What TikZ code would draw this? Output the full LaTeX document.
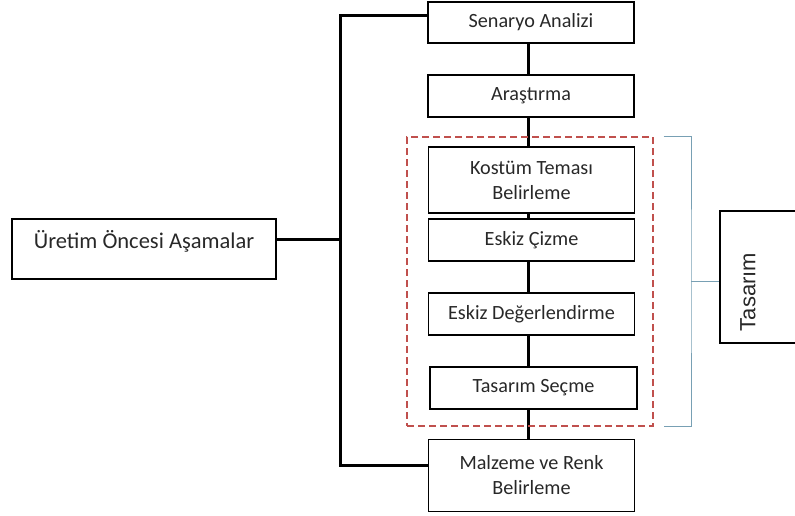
\documentclass[tikz,border=0pt]{standalone}
\usepackage{fontspec}
\setmainfont{Carlito}
\newfontfamily\sidefont{Liberation Sans}
\usetikzlibrary{positioning}
\definecolor{frame}{RGB}{192,80,77}
\definecolor{brace}{RGB}{120,160,180}
\definecolor{ink}{RGB}{40,40,40}

\begin{document}
\begin{tikzpicture}[x=1pt,y=-1pt,
    box/.style={draw, line width=1.4pt, minimum width=206pt, inner sep=0pt,
      align=center, text=ink, font=\fontsize{20.2}{25}\selectfont},
    conn/.style={line width=3pt},
    group/.style={draw=frame, dash pattern=on 7pt off 4pt, line width=1.2pt, inner sep=0pt},
    bracket/.style={draw=brace, line width=1pt}]
  \useasboundingbox (0,0) rectangle (795,515);
  % main column
  \node[box, minimum height=41pt] (senaryo) at (531,22.5) {Senaryo Analizi};
  \node[box, minimum height=42pt] (arastirma) at (531,96) {Araştırma};
  \node[box, minimum height=66pt] (kostum) at (531.5,180) {Kostüm Teması\\Belirleme};
  \node[box, minimum height=42pt] (cizme) at (531.5,240) {Eskiz Çizme};
  \node[box, minimum height=42pt] (degerlendirme) at (531.5,314) {Eskiz Değerlendirme};
  \node[box, minimum height=42pt, minimum width=207pt] (secme) at (533.5,388) {Tasarım Seçme};
  \node[box, minimum height=72pt] (malzeme) at (531.5,475.5) {Malzeme ve Renk\\Belirleme};
  \node[box, minimum width=264pt, minimum height=60pt, text height=17pt, text depth=19pt,
    font=\fontsize{22.5}{27}\selectfont] (uretim) at (144,249) {Üretim Öncesi Aşamalar};
  % spine on the left
  \coordinate (top) at (340,15);
  \coordinate (mid) at (340,239);
  \coordinate (bot) at (340,465);
  \draw[conn] (senaryo.west |- top) -- (top) -- (bot) -- (malzeme.west |- bot);
  \draw[conn] (uretim.east |- mid) -- (mid);
  \coordinate (trunk) at (528,0);
  \foreach \a/\b in {senaryo/arastirma, arastirma/kostum, kostum/cizme,
      cizme/degerlendirme, degerlendirme/secme, secme/malzeme}
    \draw[conn] (\a.south -| trunk) -- (\b.north -| trunk);
  % design group
  \node[group, minimum width=246pt, minimum height=289pt] (grp) at (530,281.5) {};
  \node[draw, line width=1.4pt, minimum width=110pt, minimum height=132pt] (tasarim) at (775,277) {};
  \node[rotate=90, text=ink, font=\sidefont\fontsize{22}{24}\selectfont] (tasarimlbl) at (748,292) {Tasarım};
  \coordinate (knee) at (691,281);
  \draw[bracket] ([xshift=10pt]grp.north east) -| (knee) |- ([xshift=10pt]grp.south east);
  \draw[bracket] (knee) -- (tasarim.west |- knee);
\end{tikzpicture}
\end{document}
